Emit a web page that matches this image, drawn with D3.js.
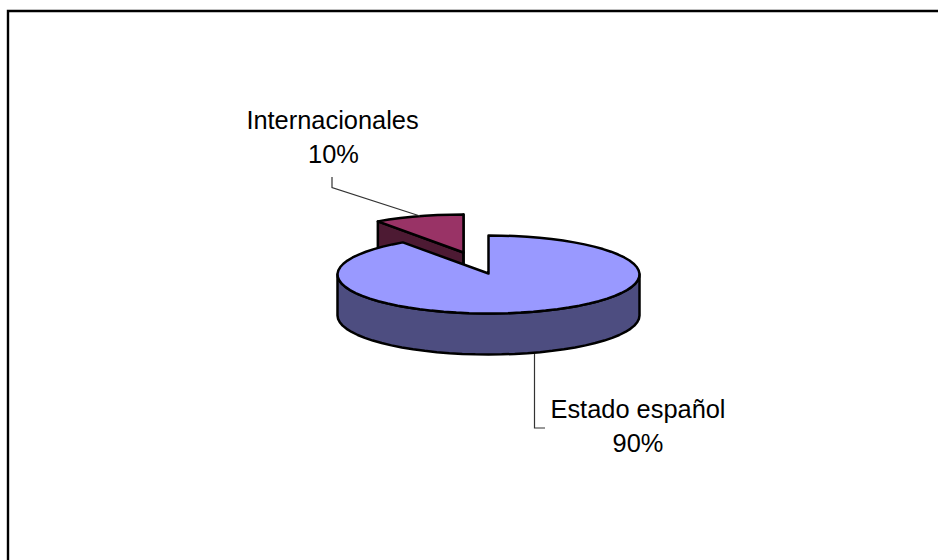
<!DOCTYPE html>
<html><head><meta charset="utf-8">
<script src="https://cdn.jsdelivr.net/npm/d3@7/dist/d3.min.js"></script>
<style>html,body{margin:0;padding:0;background:#fff}svg{display:block}</style>
</head><body><svg id="c" width="938" height="560"></svg>
<script>
const categories = ["Estado español", "Internacionales"];
const shares = [90.4, 9.6];
const topColors = ["#9999FF", "#993366"];
const sideColors = ["#4D4D80", "#4D1A33"];

const svg = d3.select("#c");
svg.append("path").attr("d","M8,560V11H938").attr("fill","none").attr("stroke","#000").attr("stroke-width",2.4);

const cx=488.5, cy=274.5, rx=151, ry=39, depth=41, ex=-25, ey=-21;
const pie = d3.pie().sort(null).value(d=>d).startAngle(0).endAngle(2*Math.PI);
const arcs = pie(shares);
const xs = d3.scaleLinear().domain([-1,1]).range([cx-rx,cx+rx]);
const ys = d3.scaleLinear().domain([-1,1]).range([cy-ry,cy+ry]);
const line = d3.line();
const pt = (a,o)=>[xs(Math.sin(a))+o.x, ys(-Math.cos(a))+o.y];
const rim = (s,e,o)=>{const n=Math.ceil((e-s)/(Math.PI/36));return d3.range(n+1).map(i=>pt(s+(e-s)*i/n,o));};
const apex = o=>[cx+o.x, cy-1+o.y];
const style = (p,fill)=>p.attr("fill",fill).attr("stroke","#000").attr("stroke-width",2.5).attr("stroke-linejoin","round");

// exploded slice first, so the large slice covers its lower part
function drawSlice(d,o,top,side){
  const down={x:o.x,y:o.y+depth};
  if(d.index===1){
    style(svg.append("path").attr("d",line([pt(d.startAngle,o),apex(o),apex(down),pt(d.startAngle,down)])+"Z"),side);
    style(svg.append("path").attr("d",line([apex(o),pt(d.endAngle,o),pt(d.endAngle,down),apex(down)])+"Z"),side);
  } else {
    const s=Math.max(d.startAngle,Math.PI/2), e=Math.min(d.endAngle,3*Math.PI/2);
    const a=rim(s,e,o), b=rim(s,e,down).reverse();
    style(svg.append("path").attr("d",line(a.concat(b))+"Z"),side);
  }
  const ring=[apex(o)].concat(rim(d.startAngle,d.endAngle,o));
  style(svg.append("path").attr("d",line(ring)+"Z"),top);
}
const zero={x:0,y:0};
drawSlice(arcs[1],{x:ex,y:ey},topColors[1],sideColors[1]);
drawSlice(arcs[0],zero,topColors[0],sideColors[0]);

// leader lines
const leader=(pts)=>svg.append("path").attr("d",line(pts)).attr("fill","none").attr("stroke","#333").attr("stroke-width",1.2);
leader([[332,177],[332,187.5],[420,216]]);
leader([[534.5,354],[534.5,428],[545,428]]);

// labels
const pct=d3.format(".0f");
const label=(x,y,t)=>svg.append("text").attr("x",x).attr("y",y).attr("text-anchor","middle")
  .attr("font-family","'Liberation Sans',Arial,sans-serif").attr("font-size",25.4).attr("fill","#000").text(t);
label(332.5,129,categories[1]); label(333.5,163,pct(shares[1])+"%");
label(638,418,categories[0]); label(638,452,pct(shares[0])+"%");
</script></body></html>
